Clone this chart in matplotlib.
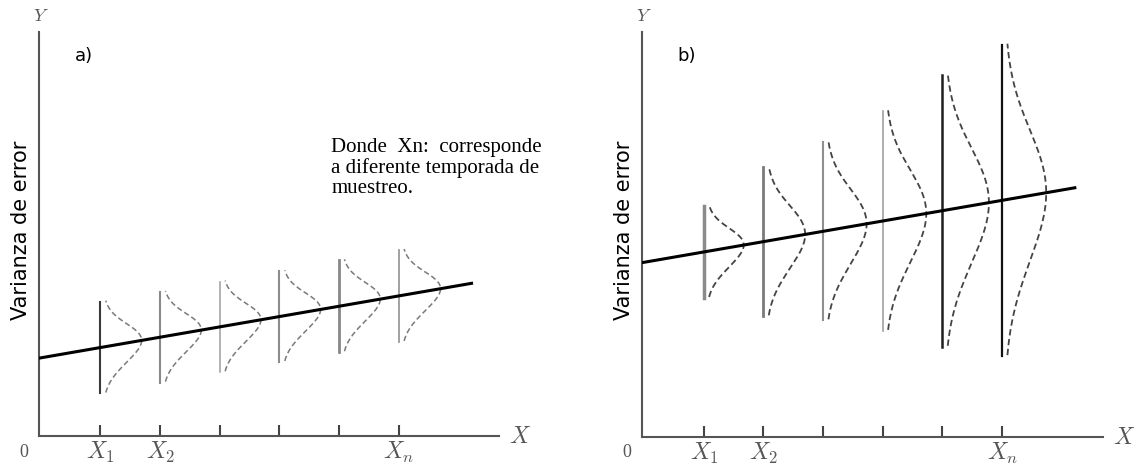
import numpy as np
import matplotlib
matplotlib.use('Agg')
import matplotlib.pyplot as plt

# positions of the sampling seasons on the x axis
x_pos = [1, 2, 3, 4, 5, 6]
tick_labels = ['$X_1$', '$X_2$', '', '', '', '$X_n$']

# a) homoscedastic: same spread at every X
line_a = (1.31, 0.173)          # intercept, slope
spread_a = [0.77, 0.76, 0.76, 0.76, 0.77, 0.77]
peak_a = [0.69, 0.69, 0.69, 0.69, 0.69, 0.70]

# b) heteroscedastic: spread grows with X
line_b = (2.92, 0.173)
spread_b = [0.77, 1.25, 1.49, 1.84, 2.28, 2.61]
peak_b = [0.67, 0.70, 0.73, 0.73, 0.78, 0.74]

nota = "Donde  Xn:  corresponde\na diferente temporada de\nmuestreo."

plt.rcParams['mathtext.fontset'] = 'cm'

W, H = 1135, 467
PX = 59.66  # pixels per data unit
XMIN = -0.03


def make_axes(fig, ox, oy, w, h):
    ax = fig.add_axes([ox / W, (H - oy) / H, w / W, h / H])
    ax.set_xlim(XMIN, XMIN + w / PX)
    ax.set_ylim(0, h / PX)
    for s in ['top', 'right']:
        ax.spines[s].set_visible(False)
    for s in ['left', 'bottom']:
        ax.spines[s].set_linewidth(1.5)
        ax.spines[s].set_color('#555555')
    ax.set_yticks([])
    ax.set_xticks(x_pos, tick_labels)
    ax.tick_params(axis='x', direction='in', length=8, width=1.5, color='#444444',
                   pad=3, labelsize=17, labelcolor='#555555')
    return ax


def draw_panel(ax, line, spreads, peaks, vcolors, vwidths, ccolor, clw, dashes, tag):
    b0, b1 = line
    xs = np.array([XMIN, 7.22])
    ax.plot(xs, b0 + b1 * xs, color='black', lw=2.2, zorder=5)
    for xp, h, pk, vc, vw in zip(x_pos, spreads, peaks, vcolors, vwidths):
        yc = b0 + b1 * xp
        ax.plot([xp, xp], [yc - h, yc + h], color=vc, lw=vw, zorder=3)
        # bell curve laid along the regression line
        t = np.linspace(-h, h, 200)
        sig = 0.42 * h
        e_h = np.exp(-h ** 2 / (2 * sig ** 2))
        g = (np.exp(-t ** 2 / (2 * sig ** 2)) - e_h) / (1 - e_h)
        cx = xp + 0.09 + (pk - 0.09) * g
        cy = b0 + b1 * cx + t
        ax.plot(cx, cy, color=ccolor, lw=clw, dashes=dashes, zorder=4)

    ax.text(0.0, ax.get_ylim()[1] + 0.27, '$Y$', fontsize=13, color='#555555',
            ha='center', va='center', clip_on=False)
    ax.text(ax.get_xlim()[1] + 0.34, 0, '$X$', fontsize=17, color='#555555',
            ha='center', va='center', clip_on=False)
    ax.text(-0.29, -0.27, '0', family='Liberation Serif', fontsize=13, color='#555555',
            ha='center', va='center', clip_on=False)
    ax.text(-0.34, 3.45, 'Varianza de error', family='DejaVu Sans', fontsize=15,
            rotation=90, ha='center', va='center', clip_on=False)
    ax.text(0.72, 6.37, tag, family='DejaVu Sans', fontsize=13, ha='center', va='center')


fig = plt.figure(figsize=(W / 100, H / 100), dpi=100)

ax1 = make_axes(fig, 39, 436, 460.3, 404.3)
draw_panel(ax1, line_a, spread_a, peak_a,
           ['#3a3a3a', '#8a8a8a', '#a5a5a5', '#8c8c8c', '#888888', '#9a9a9a'],
           [1.5, 1.5, 1.2, 1.5, 2.0, 1.3],
           '#7a7a7a', 1.1, (3.5, 2), 'a)')
ax1.text(4.87, 5.0, nota, family='Liberation Serif', fontsize=15,
         ha='left', va='top', linespacing=1.07)

ax2 = make_axes(fig, 642.3, 436.5, 461, 404.5)
draw_panel(ax2, line_b, spread_b, peak_b,
           ['#8a8a8a', '#7a7a7a', '#8f8f8f', '#a0a0a0', '#1e1e1e', '#111111'],
           [2.5, 2.0, 1.5, 1.2, 1.8, 1.6],
           '#444444', 1.3, (3.5, 2), 'b)')

fig.savefig('out.png', dpi=100)
